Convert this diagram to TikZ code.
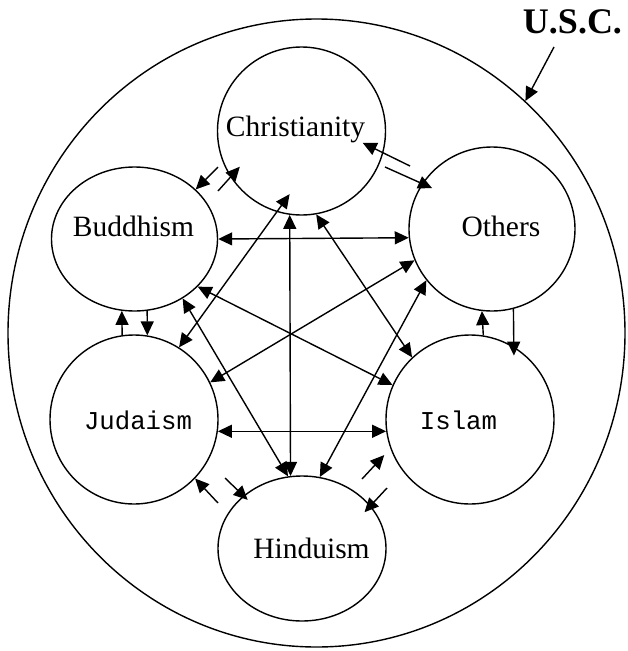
\documentclass[tikz,border=0pt]{standalone}
\usepackage{fontspec}
\setmainfont{Liberation Serif}
\newfontfamily\monofont{Liberation Mono}
\usetikzlibrary{shapes.geometric, arrows.meta}

\begin{document}
\begin{tikzpicture}[
    x=1pt, y=-1pt,
    faith/.style={
        draw, ellipse, line width=1.4pt,
        inner sep=0pt
    },
    faithname/.style={
        anchor=base, inner sep=0pt,
        font=\fontsize{29.5}{31}\selectfont
    },
    mononame/.style={
        anchor=base, inner sep=0pt,
        font=\fontsize{25.7}{27}\selectfont\monofont
    },
    link/.style={
        {Triangle[length=14pt, width=13pt]}-{Triangle[length=14pt, width=13pt]},
        line width=1.4pt
    },
    oneway/.style={
        -{Triangle[length=14pt, width=13pt]},
        line width=1.4pt
    }
]
\useasboundingbox (0,0) rectangle (627,651);

% outer circle and its label
\node[faith, minimum width=617pt, minimum height=628pt] (usc) at (316.5,333) {};
\node[anchor=base, inner sep=0pt, font=\fontsize{36}{38}\selectfont\bfseries] (usclabel) at (572.5,33) {U.S.C.};
\coordinate (uscfrom) at (554,47);
\draw[oneway] (uscfrom) -- (usc.48);

% the six faiths
\node[faith, minimum width=168pt, minimum height=168pt] (chr) at (301.5,131) {};
\node[faith, minimum width=166pt, minimum height=144pt] (bud) at (134.5,239) {};
\node[faith, minimum width=166pt, minimum height=164pt] (oth) at (492,229) {};
\node[faith, minimum width=168pt, minimum height=169pt] (jud) at (134,419.5) {};
\node[faith, minimum width=168pt, minimum height=169pt] (isl) at (470,419.5) {};
\node[faith, minimum width=168pt, minimum height=145pt] (hin) at (302,548.5) {};

\node[faithname] (chrtext) at (295.5,136) {Christianity};
\node[faithname] (budtext) at (133.5,236) {Buddhism};
\node[faithname] (othtext) at (501,236) {Others};
\node[mononame] (judtext) at (138,429) {Judaism};
\node[mononame] (isltext) at (458.5,429) {Islam};
\node[faithname] (hintext) at (311.5,558) {Hinduism};

% two-way links across the middle
\draw[link] (bud.0) -- (oth.186.5);
\draw[link] (jud.-8.6) -- (isl.188.6);
\draw[link] (chr.262.2) -- (hin.99.5);
\draw[link] (bud.-37.6) -- (isl.156.8);
\draw[link] (oth.202.8) -- (jud.26.2);
\draw[link, shorten <=-22pt] (chr.253) -- (jud.58.3);
\draw[link] (bud.-51.8) -- (hin.101.8);
\draw[link] (chr.-80.4) -- (isl.133.5);
\draw[link] (oth.218) -- (hin.76.2);

% one-way pairs between neighbours
\coordinate (cb) at (218,167);
\coordinate (bc) at (218,191);
\coordinate (oc) at (410,166);
\coordinate (co) at (385,167);
\coordinate (hj) at (218,503);
\coordinate (jh) at (225,478);
\coordinate (hi) at (362,479);
\coordinate (ih) at (387,488);
\draw[oneway] (cb) -- (bud.39);
\draw[oneway, shorten >=-14pt] (bc) -- (chr.213.9);
\draw[oneway, shorten >=-23pt] (oc) -- (chr.-15);
\draw[oneway, shorten >=-11pt] (co) -- (oth.147.9);
\draw[oneway] (jud.98.2) -- (bud.260);
\draw[oneway] (bud.-80.8) -- (jud.81.8);
\draw[oneway] (isl.81.8) -- (oth.263);
\draw[oneway, shorten >=-9pt] (oth.-75.2) -- (isl.59.2);
\draw[oneway] (hj) -- (jud.-44.8);
\draw[oneway, shorten >=-6pt] (jh) -- (hin.138.7);
\draw[oneway, shorten >=9pt] (hi) -- (isl.200.9);
\draw[oneway, shorten >=-9pt] (ih) -- (hin.32.5);
\end{tikzpicture}
\end{document}
